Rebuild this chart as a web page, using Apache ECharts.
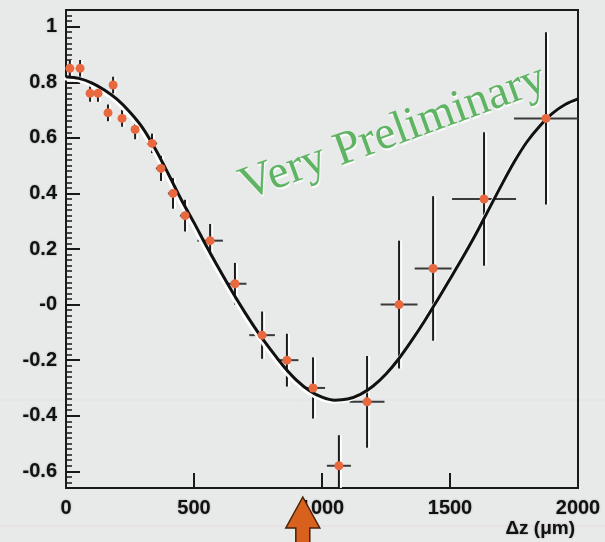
<!DOCTYPE html>
<html><head><meta charset="utf-8">
<script src="https://cdn.jsdelivr.net/npm/echarts@6/dist/echarts.min.js"></script>
<style>html,body{margin:0;padding:0;background:#e8eae9;}#c{width:605px;height:542px;}</style>
</head><body><div id="c"></div>
<script>
// Measured points: Δz (μm), asymmetry, and their errors
const dzValues   = [15, 55, 94, 125, 164, 184, 219, 270, 336, 371, 418, 465, 563, 660, 766, 863, 965, 1066, 1176, 1301, 1434, 1633, 1875];
const asymValues = [0.85, 0.85, 0.76, 0.76, 0.69, 0.79, 0.67, 0.63, 0.58, 0.49, 0.40, 0.32, 0.23, 0.075, -0.11, -0.20, -0.30, -0.58, -0.35, 0.0, 0.13, 0.38, 0.67];
const dzErrors   = [10, 10, 10, 10, 10, 10, 10, 10, 20, 20, 20, 20, 50, 45, 50, 45, 47, 47, 68, 72, 72, 125, 125];
const asymErrors = [0.03, 0.03, 0.03, 0.03, 0.03, 0.03, 0.03, 0.035, 0.035, 0.045, 0.055, 0.057, 0.06, 0.075, 0.085, 0.095, 0.11, 0.11, 0.165, 0.23, 0.26, 0.24, 0.31];

// Fit curve
const fitX = [0, 50, 100, 150, 200, 250, 300, 350, 400, 450, 500, 550, 600, 650, 700, 750, 800, 850, 900, 950, 1000, 1050, 1100, 1150, 1200, 1250, 1300, 1350, 1400, 1450, 1500, 1550, 1600, 1650, 1700, 1750, 1800, 1850, 1900, 1950, 2000];
const fitY = [0.82, 0.814, 0.798, 0.772, 0.738, 0.692, 0.635, 0.558, 0.47, 0.378, 0.295, 0.208, 0.125, 0.045, -0.03, -0.1, -0.163, -0.222, -0.272, -0.309, -0.333, -0.344, -0.34, -0.323, -0.293, -0.25, -0.195, -0.13, -0.06, 0.015, 0.092, 0.17, 0.252, 0.34, 0.428, 0.512, 0.585, 0.642, 0.688, 0.72, 0.74];

// Axis tick labels
const yTickValues = [-0.6, -0.4, -0.2, 0, 0.2, 0.4, 0.6, 0.8, 1];
const yTickLabels = ['-0.6', '-0.4', '-0.2', '-0', '0.2', '0.4', '0.6', '0.8', '1'];
const xTickValues = [0, 500, 1000, 1500, 2000];
const xTickLabels = ['0', '500', '1000', '1500', '2000'];
const xTitle = 'Δz (μm)';
const watermark = 'Very Preliminary';

const Y_MIN = -0.66, Y_MAX = 1.06;
const minorY = [];
for (let i = -33; i <= 53; i++) minorY.push(+(i * 0.02).toFixed(2));

const pts = dzValues.map((x, i) => [x, asymValues[i], dzErrors[i], asymErrors[i]]);
const fit = fitX.map((x, i) => [x, fitY[i]]);

const labelFont = {fontFamily: 'Liberation Sans, Arial, sans-serif', fontWeight: 'bold', fontSize: 20, color: '#111',
  textShadowColor: 'rgba(0,0,0,0.35)', textShadowBlur: 2};
const findLabel = (vals, labs, v) => { const k = vals.findIndex(t => Math.abs(t - v) < 1e-9); return k >= 0 ? labs[k] : ''; };

const chart = echarts.init(document.getElementById('c'), null, {renderer: 'canvas'});
chart.setOption({
  backgroundColor: '#e8eae9',
  animation: false,
  grid: {left: 66, right: 27, top: 10, bottom: 54, show: true, borderColor: '#1a1a1a', borderWidth: 2, backgroundColor: 'transparent'},
  xAxis: {
    type: 'value', min: 0, max: 2000, interval: 500,
    axisLine: {show: true, onZero: false, lineStyle: {color: '#1a1a1a', width: 2}},
    axisTick: {show: true, inside: true, length: 15, lineStyle: {color: '#1a1a1a', width: 2}, customValues: xTickValues},
    axisLabel: Object.assign({margin: 10, showMinLabel: true, showMaxLabel: true, customValues: xTickValues,
      formatter: v => findLabel(xTickValues, xTickLabels, v)}, labelFont),
    splitLine: {show: false}
  },
  yAxis: [{
    type: 'value', min: Y_MIN, max: Y_MAX,
    axisLine: {show: true, onZero: false, lineStyle: {color: '#1a1a1a', width: 2}},
    axisTick: {show: true, inside: true, length: 14, lineStyle: {color: '#1a1a1a', width: 2}, customValues: yTickValues},
    axisLabel: Object.assign({margin: 9, customValues: yTickValues,
      formatter: v => findLabel(yTickValues, yTickLabels, v)}, labelFont),
    splitLine: {show: false}
  }, {
    type: 'value', min: Y_MIN, max: Y_MAX, position: 'left', offset: 0,
    axisLine: {show: false, onZero: false},
    axisTick: {show: true, inside: true, length: 6, lineStyle: {color: '#1a1a1a', width: 1.5}, customValues: minorY},
    axisLabel: {show: true, customValues: minorY, formatter: () => '', fontSize: 1},
    splitLine: {show: false}
  }],
  series: [{
    type: 'custom', clip: true, z: 2,
    encode: {x: 0, y: 1},
    data: pts,
    renderItem: (params, api) => {
      const x = api.value(0), y = api.value(1), ex = api.value(2), ey = api.value(3);
      const t = api.coord([x, y + ey]), b = api.coord([x, y - ey]);
      const l = api.coord([x - ex, y]), r = api.coord([x + ex, y]);
      return {type: 'group', children: [
        {type: 'line', shape: {x1: t[0], y1: t[1], x2: b[0], y2: b[1]},
          style: {stroke: '#1c1c1c', lineWidth: 2, shadowColor: 'rgba(255,255,255,0.95)', shadowOffsetX: 2, shadowBlur: 0}},
        {type: 'line', shape: {x1: l[0], y1: l[1], x2: r[0], y2: r[1]},
          style: {stroke: '#3a3a3a', lineWidth: 2}}
      ]};
    }
  }, {
    type: 'line', data: fit, smooth: 0.3, showSymbol: false, z: 3, yAxisIndex: 0,
    lineStyle: {color: '#111', width: 3, shadowColor: 'rgba(255,255,255,0.95)', shadowOffsetX: -2, shadowOffsetY: 2, shadowBlur: 0}
  }, {
    type: 'scatter', data: pts.map(p => [p[0], p[1]]), symbol: 'circle', symbolSize: 9, z: 4, yAxisIndex: 0,
    itemStyle: {color: '#e8683f', opacity: 1}
  }],
  graphic: [{
    id: 'pink1', type: 'line', z: -1, silent: true,
    shape: {x1: 0, y1: 400, x2: 605, y2: 400}, style: {stroke: 'rgba(225,190,210,0.28)', lineWidth: 1}
  }, {
    id: 'pink2', type: 'line', z: -1, silent: true,
    shape: {x1: 0, y1: 526, x2: 605, y2: 526}, style: {stroke: 'rgba(225,190,210,0.35)', lineWidth: 1}
  }, {
    id: 'wm', type: 'text', x: 393, y: 133, rotation: 0.35, z: 10,
    style: {text: watermark, fontFamily: 'Liberation Serif, Times New Roman, serif', fontSize: 47, fill: '#5fb463',
      align: 'center', verticalAlign: 'middle', textShadowColor: 'rgba(255,255,255,0.9)', textShadowOffsetX: 1, textShadowOffsetY: 2, textShadowBlur: 1}
  }, {
    id: 'xt', type: 'text', right: 30, top: 519, z: 10,
    style: {text: xTitle, fontFamily: 'Liberation Sans, Arial, sans-serif', fontWeight: 'bold', fontSize: 19, fill: '#111',
      textShadowColor: 'rgba(0,0,0,0.35)', textShadowBlur: 2}
  }]
});

// Orange arrow under the axis, at Δz ≈ 925 μm
const ax = chart.convertToPixel({xAxisIndex: 0}, 925);
chart.setOption({graphic: [{
  id: 'arrow', type: 'polygon', z: 11,
  shape: {points: [[ax, 497], [ax + 17, 528], [ax + 7, 528], [ax + 7, 545], [ax - 7, 545], [ax - 7, 528], [ax - 17, 528]]},
  style: {fill: '#d8621d', stroke: '#4a2208', lineWidth: 1.5}
}]});
</script></body></html>
